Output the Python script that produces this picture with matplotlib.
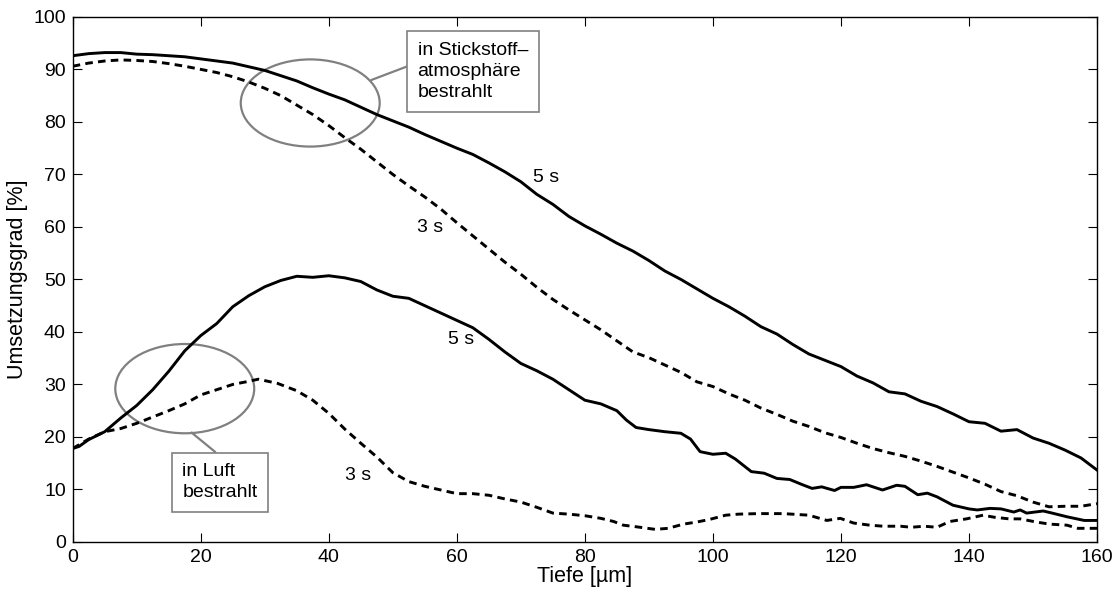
import matplotlib.pyplot as plt
from matplotlib.patches import Ellipse

plt.rcParams['font.family'] = ['Liberation Sans', 'DejaVu Sans']

# Umsetzungsgrad über der Tiefe, bestrahlt in Stickstoffatmosphäre
tiefe_n2 = [0, 2.5, 5, 7.5, 10, 12.5, 15, 17.5, 20, 22.5, 25, 27.5, 30, 32.5,
            35, 37.5, 40, 42.5, 45, 47.5, 50, 52.5, 55, 57.5, 60, 62.5, 65,
            67.5, 70, 72.5, 75, 77.5, 80, 82.5, 85, 87.5, 90, 92.5, 95, 97.5,
            100, 102.5, 105, 107.5, 110, 112.5, 115, 117.5, 120, 122.5, 125,
            127.5, 130, 132.5, 135, 137.5, 140, 142.5, 145, 147.5, 150, 152.5,
            155, 157.5, 160]
n2_5s = [92.6, 93.0, 93.2, 93.2, 92.9, 92.8, 92.6, 92.4, 92.0, 91.6, 91.2,
         90.5, 89.8, 88.8, 87.8, 86.5, 85.3, 84.2, 82.8, 81.4, 80.2, 79.0,
         77.6, 76.3, 75.0, 73.8, 72.2, 70.5, 68.6, 66.2, 64.3, 62.0, 60.2,
         58.6, 56.9, 55.4, 53.6, 51.6, 50.0, 48.2, 46.4, 44.8, 43.0, 41.0,
         39.6, 37.6, 35.8, 34.6, 33.4, 31.6, 30.3, 28.6, 28.2, 26.8, 25.8,
         24.4, 22.9, 22.6, 21.1, 21.4, 19.8, 18.8, 17.5, 16.0, 13.7]
n2_3s = [90.6, 91.2, 91.6, 91.8, 91.7, 91.5, 91.1, 90.6, 90.0, 89.4, 88.6,
         87.6, 86.4, 85.0, 83.2, 81.4, 79.3, 77.0, 74.8, 72.4, 70.0, 67.8,
         65.7, 63.4, 60.8, 58.3, 55.8, 53.3, 51.0, 48.5, 46.2, 44.2, 42.3,
         40.4, 38.3, 36.2, 35.1, 33.7, 32.3, 30.5, 29.6, 28.2, 27.0, 25.5,
         24.3, 23.0, 22.0, 20.8, 19.9, 18.8, 17.8, 17.0, 16.3, 15.4, 14.4,
         13.3, 12.2, 11.0, 9.6, 8.8, 7.6, 6.7, 6.8, 6.8, 7.3]

# bestrahlt in Luft
tiefe_luft_5s = [0, 1, 2.5, 4, 5, 7.5, 10, 12.5, 15, 17.5, 20, 22.5, 25, 27.5,
                 30, 32.5, 35, 37.5, 40, 42.5, 45, 47.5, 50, 52.5, 55, 57.5,
                 60, 62.5, 65, 67.5, 70, 72.5, 75, 77.5, 80, 82.5, 85, 86.5,
                 88, 90, 92.5, 95, 96.5, 98, 100, 102, 103.5, 106, 108, 110,
                 112, 114, 115.5, 117, 119, 120, 122, 124, 126.5, 128.7, 130,
                 132, 133.5, 135, 137.5, 140, 141.3, 143.3, 145, 147, 148, 149,
                 151.6, 153, 155.3, 158, 160]
luft_5s = [17.8, 18.2, 19.5, 20.4, 21.0, 23.6, 26.0, 29.0, 32.5, 36.4, 39.3,
           41.6, 44.8, 46.9, 48.6, 49.8, 50.6, 50.4, 50.7, 50.3, 49.6, 48.0,
           46.8, 46.4, 45.0, 43.6, 42.2, 40.8, 38.6, 36.2, 34.0, 32.6, 31.0,
           29.0, 27.0, 26.3, 25.0, 23.2, 21.8, 21.4, 21.0, 20.7, 19.6, 17.2,
           16.7, 16.9, 15.8, 13.4, 13.1, 12.1, 11.9, 10.9, 10.2, 10.5, 9.8,
           10.4, 10.4, 10.9, 9.9, 10.8, 10.6, 9.0, 9.3, 8.6, 7.0, 6.3, 6.1,
           6.4, 6.3, 5.7, 6.1, 5.5, 5.9, 5.5, 4.8, 4.1, 4.1]
tiefe_luft_3s = [0, 2.5, 5, 7.5, 10, 12.5, 15, 17.5, 20, 22.5, 25, 27.5, 29,
                 32, 35, 37.5, 40, 42.5, 45, 47.5, 50, 52.5, 55, 57.5, 60, 62.5,
                 65, 67.5, 70, 72.5, 75, 77.5, 80, 82.5, 84.5, 86, 88, 91, 93,
                 95.4, 97.5, 99.5, 102, 104, 107, 111, 115, 117.8, 119.9, 122,
                 124.5, 126.6, 129.3, 131, 133, 135, 137, 139.6, 142.2, 144,
                 146.3, 148, 150.5, 152.6, 155.3, 157, 160]
luft_3s = [17.8, 19.6, 21.0, 21.6, 22.6, 23.8, 25.0, 26.3, 28.0, 29.0, 30.0,
           30.6, 31.0, 30.2, 28.8, 27.0, 24.5, 21.5, 18.8, 16.2, 13.2, 11.5,
           10.6, 9.9, 9.2, 9.2, 8.9, 8.2, 7.6, 6.6, 5.5, 5.3, 5.0, 4.5, 3.9,
           3.2, 2.9, 2.4, 2.6, 3.4, 3.8, 4.3, 5.1, 5.3, 5.4, 5.4, 5.1, 4.1,
           4.5, 3.6, 3.2, 3.0, 3.0, 2.8, 3.0, 2.8, 3.9, 4.4, 5.1, 4.7, 4.4,
           4.4, 3.8, 3.4, 3.2, 2.6, 2.6]

fig = plt.figure(figsize=(11.17, 5.92), dpi=100)
ax = fig.add_axes([0.0651, 0.0845, 0.917, 0.887])

gestrichelt = (0, (2.6, 1.8))
ax.plot(tiefe_n2, n2_5s, color='black', lw=2.1)
ax.plot(tiefe_n2, n2_3s, color='black', lw=2.1, linestyle=gestrichelt)
ax.plot(tiefe_luft_5s, luft_5s, color='black', lw=2.1)
ax.plot(tiefe_luft_3s, luft_3s, color='black', lw=2.1, linestyle=gestrichelt)

fs = 14
ax.text(74.0, 69.4, '5 s', fontsize=fs, ha='center', va='center')
ax.text(55.8, 59.9, '3 s', fontsize=fs, ha='center', va='center')
ax.text(60.6, 38.5, '5 s', fontsize=fs, ha='center', va='center')
ax.text(44.5, 12.6, '3 s', fontsize=fs, ha='center', va='center')

# Markierungen mit Hinweiskästen
grau = '#808080'
ax.add_patch(Ellipse((37.1, 83.6), 21.7, 16.6, fill=False, edgecolor=grau, lw=1.6))
ax.add_patch(Ellipse((17.5, 29.2), 21.7, 17.0, fill=False, edgecolor=grau, lw=1.6))
ax.plot([46.7, 52.1], [88.0, 90.5], color=grau, lw=1.6)
ax.plot([18.6, 22.2], [20.8, 17.2], color=grau, lw=1.6)

box = dict(boxstyle='square,pad=0.55', facecolor='white', edgecolor=grau, lw=1.2)
ax.text(53.86, 89.6, 'in Stickstoff–\natmosphäre\nbestrahlt', fontsize=fs,
        ha='left', va='center', bbox=box, linespacing=1.3)
ax.text(17.14, 11.35, 'in Luft\nbestrahlt', fontsize=fs,
        ha='left', va='center', bbox=box, linespacing=1.3)

ax.set_xlim(0, 160)
ax.set_ylim(0, 100)
ax.set_xticks(range(0, 161, 20))
ax.set_yticks(range(0, 101, 10))
ax.tick_params(direction='in', length=6.5, width=0.8, top=True, right=True,
               labelsize=fs, pad=5)
for s in ax.spines.values():
    s.set_linewidth(1.0)

ax.set_xlabel('Tiefe [µm]', fontsize=15.5, labelpad=0)
ax.set_ylabel('Umsetzungsgrad [%]', fontsize=15.5, labelpad=4)

fig.savefig('out.png', dpi=100)
